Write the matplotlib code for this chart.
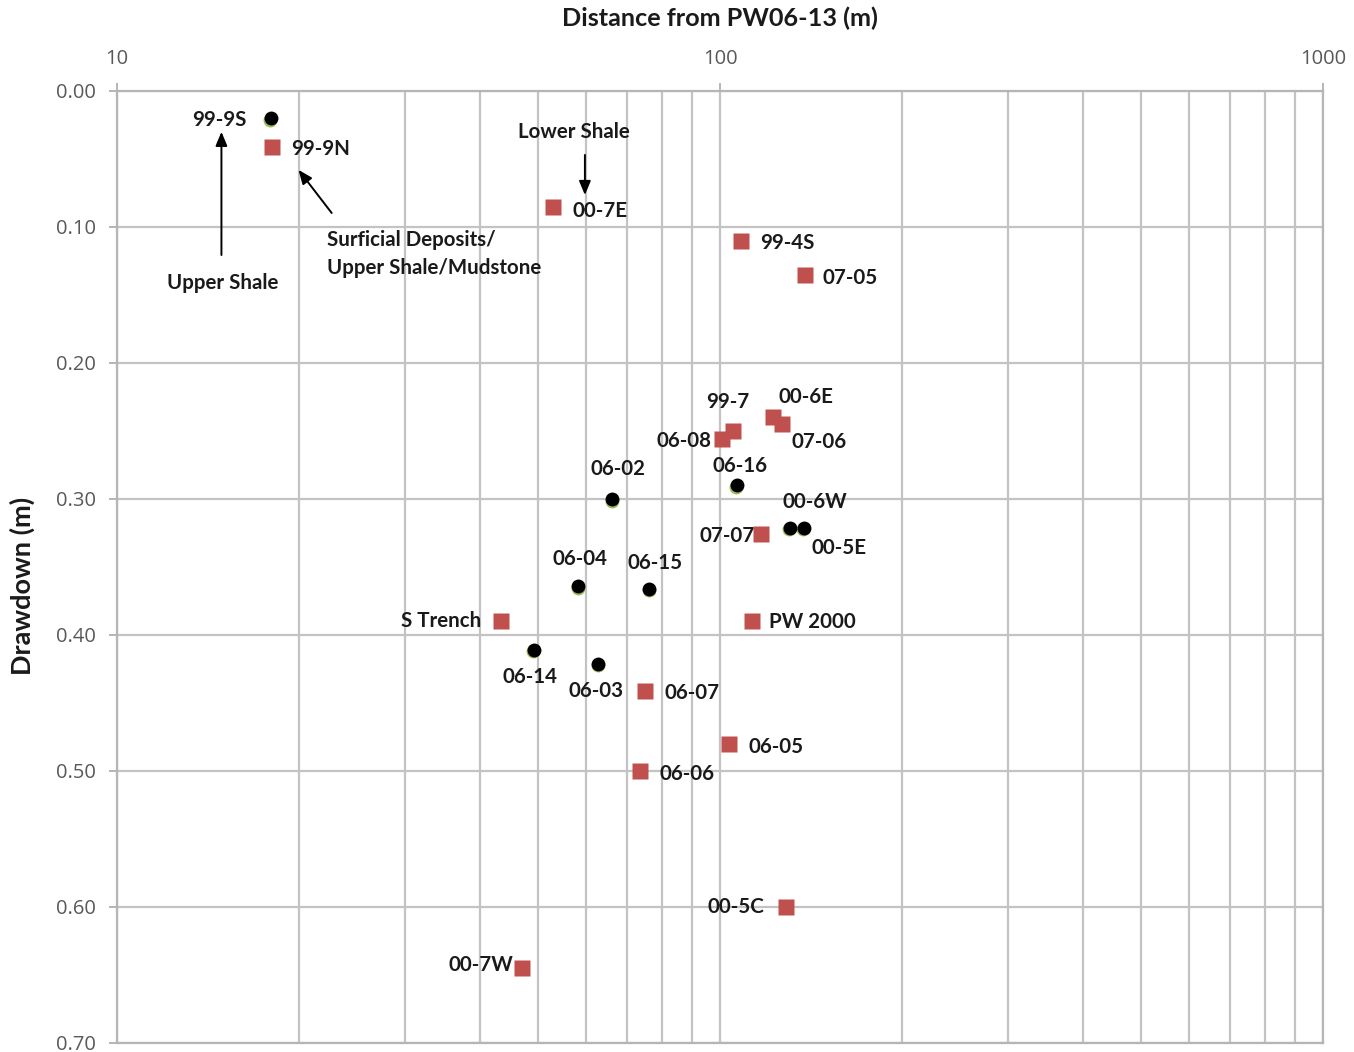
import matplotlib
matplotlib.use("Agg")
import matplotlib.pyplot as plt
import matplotlib.transforms as mtransforms
from matplotlib.ticker import FixedLocator, FixedFormatter, NullLocator

# Wells shown as black circles
circle_wells = ["99-9S", "06-02", "06-16", "00-6W", "00-5E",
                "06-04", "06-15", "06-14", "06-03"]
circle_dist = [18.0, 66.3, 106.6, 130.6, 137.8, 58.2, 76.3, 49.1, 62.8]
circle_dd = [0.020, 0.300, 0.290, 0.321, 0.321, 0.364, 0.366, 0.411, 0.421]

# Wells shown as red squares
square_wells = ["99-9N", "00-7E", "99-4S", "07-05", "99-7", "00-6E", "06-08",
                "07-06", "07-07", "S Trench", "PW 2000", "06-07", "06-05",
                "06-06", "00-5C", "00-7W"]
square_dist = [18.1, 52.9, 108.2, 138.3, 105.2, 122.3, 100.6, 126.6, 117.0,
               43.3, 112.9, 75.2, 103.5, 73.8, 128.7, 46.9]
square_dd = [0.041, 0.085, 0.110, 0.135, 0.250, 0.240, 0.256, 0.245, 0.326,
             0.390, 0.390, 0.441, 0.480, 0.500, 0.600, 0.645]

x_ticks = [10, 100, 1000]
x_tick_labels = ["10", "100", "1000"]
y_ticks = [0.0, 0.1, 0.2, 0.3, 0.4, 0.5, 0.6, 0.7]
y_tick_labels = ["0.00", "0.10", "0.20", "0.30", "0.40", "0.50", "0.60", "0.70"]

# label placement: offset in pixels (right, down) and horizontal alignment
label_pos = {
    "99-9S": (-24, 0, "right"), "99-9N": (19, 0, "left"),
    "00-7E": (19, 2, "left"), "99-4S": (19, 0, "left"),
    "07-05": (18, 1, "left"), "99-7": (-6, -31, "center"),
    "00-6E": (6, -22, "left"), "06-08": (-10, 0, "right"),
    "07-06": (10, 16, "left"), "06-02": (6, -32, "center"),
    "06-16": (3, -21, "center"), "00-6W": (-7, -28, "left"),
    "00-5E": (8, 18, "left"), "07-07": (-6, 0, "right"),
    "06-04": (2, -29, "center"), "06-15": (6, -28, "center"),
    "S Trench": (-20, -2, "right"), "PW 2000": (17, -1, "left"),
    "06-14": (-4, 25, "center"), "06-03": (-2, 25, "center"),
    "06-07": (19, 0, "left"), "06-05": (19, 1, "left"),
    "06-06": (19, 1, "left"), "00-5C": (-22, -2, "right"),
    "00-7W": (-8, -5, "right"),
}

DPI = 100
W, H = 1354, 1052
fig = plt.figure(figsize=(W / DPI, H / DPI), dpi=DPI)
ax = fig.add_axes([117 / W, 1 - 1043 / H, (1323 - 117) / W, (1043 - 91) / H])

grid_col = "#c3c3c3"
ax.set_xscale("log")
ax.set_xlim(10, 1000)
ax.set_ylim(0.7, 0.0)

ax.xaxis.set_major_locator(FixedLocator(x_ticks))
ax.xaxis.set_major_formatter(FixedFormatter(x_tick_labels))
ax.xaxis.set_minor_locator(FixedLocator([m * d for d in (10, 100) for m in range(2, 10)]))
ax.yaxis.set_major_locator(FixedLocator(y_ticks))
ax.yaxis.set_major_formatter(FixedFormatter(y_tick_labels))
ax.yaxis.set_minor_locator(NullLocator())
ax.xaxis.tick_top()

ax.grid(True, which="both", axis="x", color=grid_col, lw=1.6)
ax.grid(True, which="major", axis="y", color=grid_col, lw=1.6)
ax.set_axisbelow(True)
for s in ax.spines.values():
    s.set_color("#b5b5b5")
    s.set_linewidth(1.6)

ax.tick_params(axis="x", which="major", direction="out", length=6, width=1.4,
               color="#b5b5b5", pad=10, labelcolor="#595959")
ax.tick_params(axis="x", which="minor", length=0)
ax.tick_params(axis="y", which="major", direction="out", length=6, width=1.4,
               color="#b5b5b5", pad=9, labelcolor="#595959")
for lab in ax.get_xticklabels() + ax.get_yticklabels():
    lab.set_fontfamily("Open Sans")
    lab.set_fontsize(14.5)

# circles with a faint green rim underneath
shift = mtransforms.offset_copy(ax.transData, fig=fig, x=-0.5, y=-1.5, units="dots")
ax.plot(circle_dist, circle_dd, "o", ms=10, color="#9bbb59", mec="none",
        transform=shift, zorder=3)
ax.plot(circle_dist, circle_dd, "o", ms=10, color="black", mec="none", zorder=4)
ax.plot(square_dist, square_dd, "s", ms=11.5, color="#c0504d", mec="none", zorder=4)

label_font = dict(family="Lato", weight="bold", size=14.8, color="#1a1a1a")
px = 72 / DPI
for names, xs, ys in ((circle_wells, circle_dist, circle_dd),
                      (square_wells, square_dist, square_dd)):
    for n, x, y in zip(names, xs, ys):
        dx, dy, ha = label_pos[n]
        ax.annotate(n, (x, y), xytext=(dx * px, -dy * px),
                    textcoords="offset points", ha=ha, va="center_baseline",
                    zorder=5, **label_font)

# formation annotations
arrow = dict(arrowstyle="-|>,head_length=0.6,head_width=0.25", color="black",
             lw=1.4, shrinkA=0, shrinkB=0, mutation_scale=14)
ax.annotate("", xy=(14.9, 0.030), xytext=(14.9, 0.1206), arrowprops=arrow)
ax.text(15.0, 0.141, "Upper Shale", ha="center", va="center", **label_font)
ax.annotate("", xy=(20.0, 0.058), xytext=(22.7, 0.0897), arrowprops=arrow)
ax.text(22.3, 0.120, "Surficial Deposits/\nUpper Shale/Mudstone", ha="left",
        va="center", linespacing=1.5, **label_font)
ax.annotate("", xy=(59.7, 0.0765), xytext=(59.7, 0.047), arrowprops=arrow)
ax.text(57.3, 0.030, "Lower Shale", ha="center", va="center", **label_font)

fig.text(720 / W, 1 - 18 / H, "Distance from PW06-13 (m)", ha="center",
         va="center", family="Lato", weight="bold", size=18.2, color="#1a1a1a")
fig.text(22 / W, 1 - 586 / H, "Drawdown (m)", ha="center", va="center",
         rotation=90, family="Lato", weight="bold", size=19.5, color="#1a1a1a")

fig.savefig("out.png", dpi=DPI)
